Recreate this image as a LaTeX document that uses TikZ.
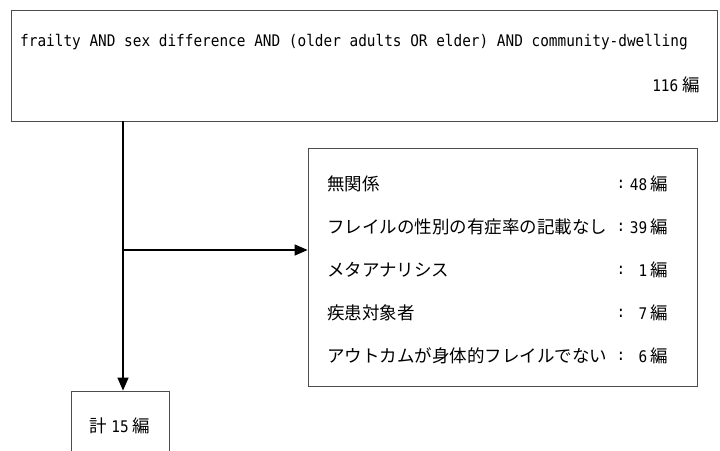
\documentclass[tikz,border=0pt]{standalone}
\usepackage{fontspec}
\setmainfont{Noto Sans CJK JP}
\newfontfamily\monofont{DejaVu Sans Mono}[FakeStretch=0.9]
\newcommand{\dig}[1]{{\monofont\fontsize{16}{18}\selectfont #1}}
\usetikzlibrary{arrows.meta}

\begin{document}
\begin{tikzpicture}[x=1pt,y=-1pt,
	box/.style={draw=black!70, line width=0.8pt, inner sep=0pt},
	txt/.style={inner sep=0pt, font=\fontsize{17.5}{20}\selectfont},
	flow/.style={line width=1.3pt, -{Triangle[length=13pt,width=11pt]}}]
	\useasboundingbox (0,0) rectangle (720,450);
	% boxes
	\node[box, minimum width=706pt, minimum height=111pt] (search) at (364,65.5) {};
	\node[box, minimum width=389pt, minimum height=238pt] (excl) at (502.5,267) {};
	\node[box, minimum width=98pt, minimum height=70pt, txt] (incl) at (120,426) {計\hspace{4pt}\dig{15}\hspace{4pt}編};
	% texts
	\node[txt, anchor=west, font=\monofont\fontsize{16}{18}\selectfont] (query) at (20,42) {frailty AND sex difference AND (older adults OR elder) AND community-dwelling};
	\node[txt, anchor=east] (total) at (700,85) {\dig{116}\hspace{4pt}編};
	\foreach \t/\n [count=\i] in {無関係/48,フレイルの性別の有症率の記載なし/39,メタアナリシス/1,疾患対象者/7,アウトカムが身体的フレイルでない/6}
	{
		\node[txt, anchor=west] (r\i) at (327,141+43*\i) {\t};
		\node[txt] (c\i) at (621,141+43*\i) {\dig{:}};
		\node[txt, anchor=east] (n\i) at (668,141+43*\i) {\dig{\n}\hspace{3pt}編};
	}
	% arrows
	\coordinate (branch) at (123,250);
	\draw[flow] (search.south -| branch) -- (incl.north -| branch);
	\draw[flow] (branch) -- (branch -| excl.west);
\end{tikzpicture}
\end{document}
